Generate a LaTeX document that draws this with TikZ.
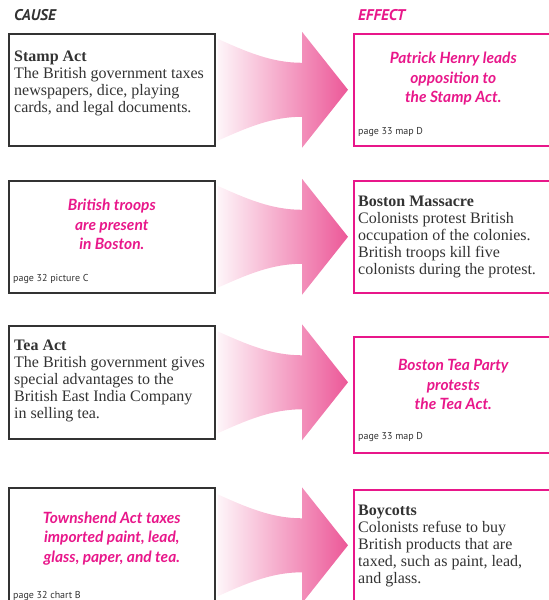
\documentclass[tikz,border=0pt]{standalone}
\usepackage{fontspec}
\usepackage{tikz}
\usetikzlibrary{calc,positioning}

\setmainfont{Liberation Serif}
\newfontfamily\handfont{Lato}
\newfontfamily\reffont{PT Sans}

\definecolor{hotpink}{HTML}{E8178A}
\definecolor{arrowpink}{HTML}{EC5898}
\definecolor{inkgray}{HTML}{333333}

% big shaded arrow from a cause box to its effect box
\newcommand{\flowarrow}[2]{%
  \shade[left color=arrowpink!6,right color=arrowpink]
    let \p1=(#1.east), \p2=(#2.west) in
    (\x1+2pt,\y1+51pt) .. controls (\x1+31pt,\y1+38pt) and (\x1+56pt,\y1+27pt) .. (\x2-51pt,\y1+27pt)
    -- (\x2-51pt,\y1+58pt) -- (\x2-5pt,\y1) -- (\x2-51pt,\y1-58pt) -- (\x2-51pt,\y1-27pt)
    .. controls (\x1+56pt,\y1-27pt) and (\x1+31pt,\y1-38pt) .. (\x1+2pt,\y1-51pt) -- cycle;}

\begin{document}
\begin{tikzpicture}[x=1pt,y=1pt,
        causebox/.style={draw=inkgray,line width=1.6pt,minimum width=206pt,minimum height=112pt,anchor=north west,inner sep=0pt},
        effectbox/.style={draw=hotpink,line width=1.6pt,minimum width=199pt,minimum height=112pt,anchor=north west,inner sep=0pt},
        fact/.style={align=left,inner sep=0pt,text=inkgray,font=\fontsize{16}{17}\selectfont},
        hand/.style={align=center,inner sep=0pt,text=hotpink,font=\handfont\bfseries\itshape\fontsize{15.5}{19.5}\selectfont},
        pageref/.style={anchor=base west,inner sep=0pt,text=inkgray,font=\reffont\fontsize{10}{11}\selectfont},
        heading/.style={anchor=base west,inner sep=0pt,font=\reffont\bfseries\itshape\fontsize{15.5}{17}\selectfont}]

    \useasboundingbox (0,0) rectangle (549,600);

    % Headings
    \node[heading,text=inkgray] (cause) at (14,579) {CAUSE};
    \node[heading,text=hotpink] (effect) at (358,579) {EFFECT};

    % Row 1
    \node[causebox] (stamp) at (8,567) {};
    \node[effectbox] (henry) at (353,567) {};
    \node[fact,below right=18pt and 6pt of stamp.north west] (stamptext)
        {\textbf{Stamp Act}\\The British government taxes\\newspapers, dice, playing\\cards, and legal documents.};
    \node[hand] (henrytext) at ([yshift=11pt]henry.center)
        {Patrick Henry leads\\opposition to\\the Stamp Act.};
    \node[pageref] (henryref) at ([shift={(5,12)}]henry.south west) {page 33 map D};

    % Row 2
    \node[causebox] (troops) at (8,420) {};
    \node[effectbox] (massacre) at (353,420) {};
    \node[hand] (troopstext) at ([yshift=12pt]troops.center)
        {British troops\\are present\\in Boston.};
    \node[pageref] (troopsref) at ([shift={(5,12)}]troops.south west) {page 32 picture C};
    \node[fact,below right=16pt and 5pt of massacre.north west] (massacretext)
        {\textbf{Boston Massacre}\\Colonists protest British\\occupation of the colonies.\\British troops kill five\\colonists during the protest.};

    % Row 3
    \node[causebox,minimum height=113pt] (tea) at (8,275) {};
    \node[effectbox,minimum height=116pt] (party) at (353,264) {};
    \node[fact,below right=15pt and 6pt of tea.north west] (teatext)
        {\textbf{Tea Act}\\The British government gives\\special advantages to the\\British East India Company\\in selling tea.};
    \node[hand] (partytext) at ([yshift=10pt]party.center)
        {Boston Tea Party\\protests\\the Tea Act.};
    \node[pageref] (partyref) at ([shift={(5,14)}]party.south west) {page 33 map D};

    % Row 4
    \node[causebox,minimum height=115pt] (townshend) at (8,113) {};
    \node[effectbox,minimum height=115pt] (boycott) at (353,111) {};
    \node[hand] (townshendtext) at ([yshift=7pt]townshend.center)
        {Townshend Act taxes\\imported paint, lead,\\glass, paper, and tea.};
    \node[pageref] (townshendref) at ([shift={(5,5)}]townshend.south west) {page 32 chart B};
    \node[fact,below right=16pt and 5pt of boycott.north west] (boycotttext)
        {\textbf{Boycotts}\\Colonists refuse to buy\\British products that are\\taxed, such as paint, lead,\\and glass.};

    % Arrows
    \flowarrow{stamp}{henry}
    \flowarrow{troops}{massacre}
    \flowarrow{tea}{party}
    \flowarrow{townshend}{boycott}
\end{tikzpicture}
\end{document}
